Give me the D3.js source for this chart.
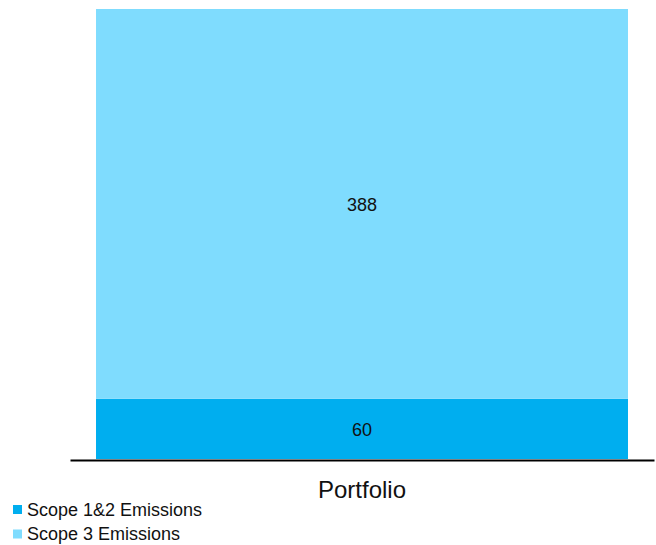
<!DOCTYPE html>
<html>
<head>
<meta charset="utf-8">
<script src="https://cdn.jsdelivr.net/npm/d3@7"></script>
<style>
  body { margin: 0; background: #fff; }
  text { font-family: "Liberation Sans", Arial, sans-serif; fill: #111; }
</style>
</head>
<body>
<script>
// Stacked bar: portfolio emissions by scope

let categories = ["Portfolio"];
let seriesNames = ["Scope 1&2 Emissions", "Scope 3 Emissions"];
let scope12 = [60];
let scope3 = [388];

let colors = ["#00aeef", "#7fdcfe"];

let svgWidth = 656;
let svgHeight = 545;

let svg = d3.select("body")
            .append("svg")
            .attr("width", svgWidth)
            .attr("height", svgHeight);

// rows for the stack
let rows = categories.map((c, i) => ({ cat: c, s12: scope12[i], s3: scope3[i] }));
let stack = d3.stack().keys(["s12", "s3"]);
let layers = stack(rows);

let xScale = d3.scaleBand()
               .domain(categories)
               .range([70, 654])
               .paddingInner(0)
               .paddingOuter(0.0489);

let yScale = d3.scaleLinear()
               .domain([0, d3.max(rows, d => d.s12 + d.s3)])
               .range([459, 9]);

// Bars
let layerGroups = svg.selectAll("g.layer")
                     .data(layers)
                     .enter()
                     .append("g")
                     .attr("class", "layer")
                     .attr("fill", (d, i) => colors[i]);

layerGroups.selectAll("rect")
           .data(d => d)
           .enter()
           .append("rect")
           .attr("x", d => xScale(d.data.cat))
           .attr("width", xScale.bandwidth())
           .attr("y", d => yScale(d[1]))
           .attr("height", d => yScale(d[0]) - yScale(d[1]));

// Value labels
layerGroups.selectAll("text")
           .data(d => d)
           .enter()
           .append("text")
           .attr("x", d => xScale(d.data.cat) + xScale.bandwidth() / 2)
           .attr("y", d => (yScale(d[0]) + yScale(d[1])) / 2 + 1)
           .attr("dy", "0.36em")
           .attr("text-anchor", "middle")
           .attr("font-size", "18px")
           .text(d => d[1] - d[0]);

// X axis
let bottomAxis = d3.axisBottom(xScale).tickSize(0).tickPadding(21);
let xAxis = svg.append("g")
               .attr("transform", "translate(0, 460)")
               .call(bottomAxis);
xAxis.select(".domain").attr("stroke", "#000").attr("stroke-width", 2);
xAxis.selectAll("text").attr("font-size", "24px").style("font-family", "Liberation Sans, Arial, sans-serif").attr("fill", "#111");

// Legend
let legend = svg.selectAll("g.legend")
                .data(seriesNames)
                .enter()
                .append("g")
                .attr("class", "legend")
                .attr("transform", (d, i) => `translate(13, ${505 + i * 24.5})`);

legend.append("rect")
      .attr("width", 9)
      .attr("height", 9)
      .attr("fill", (d, i) => colors[i]);

legend.append("text")
      .attr("x", 14)
      .attr("y", 4.5)
      .attr("dy", "0.36em")
      .attr("font-size", "18px")
      .text(d => d);
</script>
</body>
</html>
